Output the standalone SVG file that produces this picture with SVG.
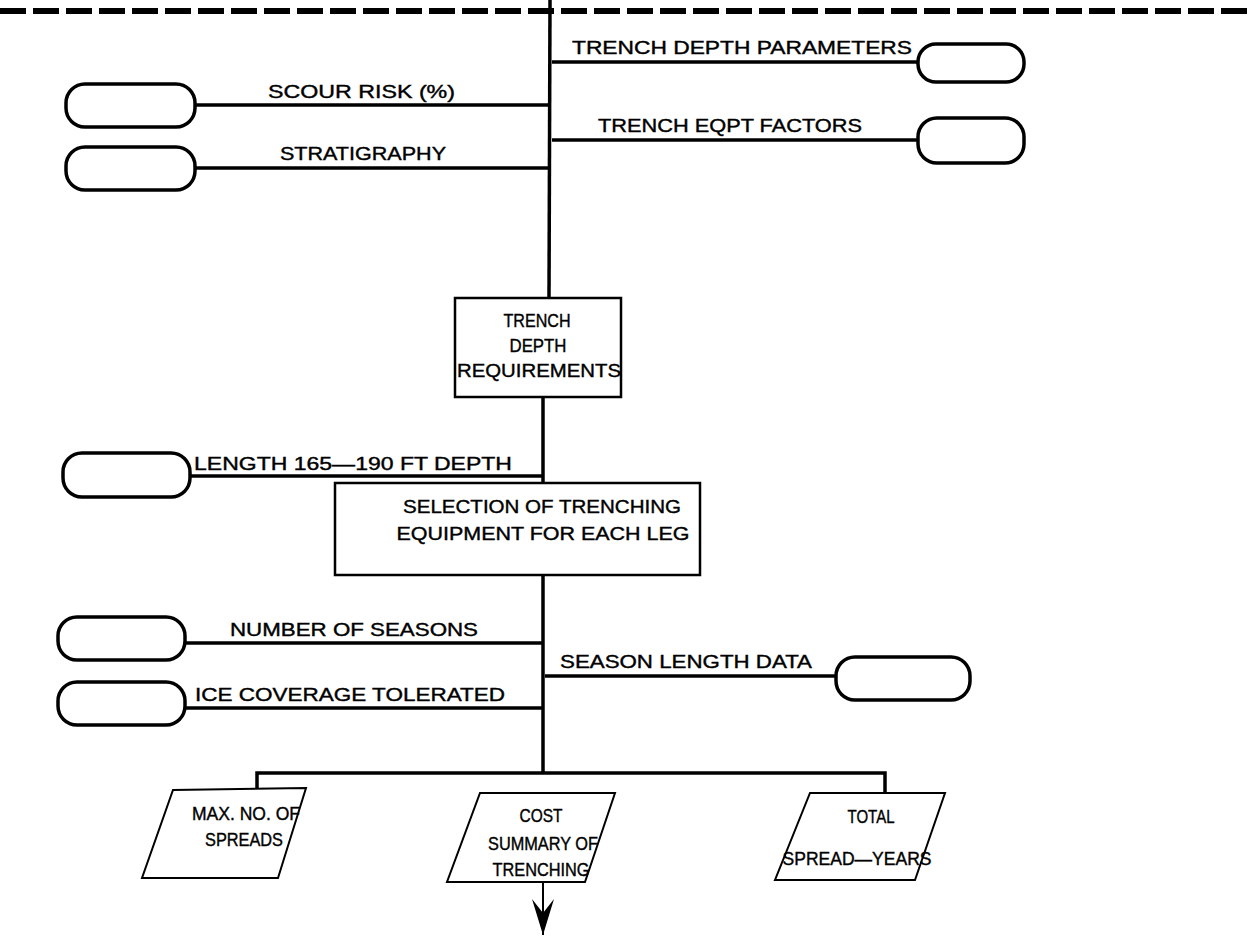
<svg xmlns="http://www.w3.org/2000/svg" width="1249" height="942" viewBox="0 0 1249 942">
<style>
text{font-family:"Liberation Sans",Arial,sans-serif;font-size:19px;fill:#000;stroke:#000;stroke-width:0.4;}
.c{text-anchor:middle;}
.conn{stroke:#000;stroke-width:3.5;fill:none;}
.oval{fill:#fff;stroke:#000;stroke-width:3.5;}
.box{fill:#fff;stroke:#000;stroke-width:2.5;}
.para{fill:#fff;stroke:#000;stroke-width:2;}
</style>
<defs>
<marker id="arr" markerWidth="40" markerHeight="24" refX="36" refY="12" orient="auto" markerUnits="userSpaceOnUse" viewBox="0 0 40 24">
<path d="M0,1 L36,12 L0,23 L14,12 Z" fill="#000"/>
</marker>
</defs>
<rect width="1249" height="942" fill="#fff"/>
<line x1="0" y1="11" x2="1249" y2="11" stroke="#000" stroke-width="6" stroke-dasharray="26 7"/>
<g id="connectors">
<line class="conn" x1="550" y1="0" x2="549" y2="298"/>
<line class="conn" x1="552" y1="62" x2="918" y2="62"/>
<line class="conn" x1="195" y1="105" x2="549" y2="105"/>
<line class="conn" x1="552" y1="140" x2="918" y2="140"/>
<line class="conn" x1="195" y1="168" x2="549" y2="168"/>
<line class="conn" x1="543" y1="397" x2="543" y2="483"/>
<line class="conn" x1="190" y1="476" x2="543" y2="476"/>
<line class="conn" x1="543" y1="575" x2="543" y2="773"/>
<line class="conn" x1="185" y1="643" x2="543" y2="643"/>
<line class="conn" x1="545" y1="676" x2="836" y2="676"/>
<line class="conn" x1="185" y1="708" x2="543" y2="708"/>
<polyline class="conn" points="257,790 257,773 885,773 885,793"/>
<line stroke="#000" stroke-width="2" x1="543" y1="882" x2="543" y2="935" marker-end="url(#arr)"/>
</g>
<g id="tdp-input"><rect class="oval" x="918" y="44" width="106" height="38" rx="18"/></g>
<text x="572" y="54" textLength="340" lengthAdjust="spacingAndGlyphs">TRENCH DEPTH PARAMETERS</text>
<g id="scour-input"><rect class="oval" x="66" y="84" width="129" height="43" rx="19"/></g>
<text x="268" y="98" textLength="187" lengthAdjust="spacingAndGlyphs">SCOUR RISK (%)</text>
<g id="tef-input"><rect class="oval" x="918" y="118" width="106" height="45" rx="19"/></g>
<text x="598" y="132" textLength="264" lengthAdjust="spacingAndGlyphs">TRENCH EQPT FACTORS</text>
<g id="strat-input"><rect class="oval" x="66" y="147" width="129" height="43" rx="19"/></g>
<text x="280" y="160" textLength="166" lengthAdjust="spacingAndGlyphs">STRATIGRAPHY</text>
<g id="tdr">
<rect class="box" x="455" y="298" width="166" height="99"/>
<text class="c" x="537" y="327" textLength="67" lengthAdjust="spacingAndGlyphs">TRENCH</text>
<text class="c" x="538" y="352" textLength="57" lengthAdjust="spacingAndGlyphs">DEPTH</text>
<text class="c" x="539" y="377" textLength="164" lengthAdjust="spacingAndGlyphs">REQUIREMENTS</text>
</g>
<g id="length-input"><rect class="oval" x="63" y="453" width="127" height="44" rx="19"/></g>
<text x="194" y="470" textLength="318" lengthAdjust="spacingAndGlyphs">LENGTH 165—190 FT DEPTH</text>
<g id="selection">
<rect class="box" x="335" y="483" width="365" height="92"/>
<text class="c" x="542" y="513" textLength="278" lengthAdjust="spacingAndGlyphs">SELECTION OF TRENCHING</text>
<text class="c" x="543" y="540" textLength="293" lengthAdjust="spacingAndGlyphs">EQUIPMENT FOR EACH LEG</text>
</g>
<g id="seasons-input"><rect class="oval" x="58" y="617" width="127" height="43" rx="19"/></g>
<text x="230" y="636" textLength="248" lengthAdjust="spacingAndGlyphs">NUMBER OF SEASONS</text>
<g id="sld-input"><rect class="oval" x="836" y="657" width="134" height="43" rx="19"/></g>
<text x="560" y="668" textLength="252" lengthAdjust="spacingAndGlyphs">SEASON LENGTH DATA</text>
<g id="ice-input"><rect class="oval" x="58" y="682" width="127" height="43" rx="19"/></g>
<text x="195" y="701" textLength="310" lengthAdjust="spacingAndGlyphs">ICE COVERAGE TOLERATED</text>
<g id="max-spreads">
<polygon class="para" points="173,790 306,788 278,878 142,878"/>
<text class="c" x="246" y="820" textLength="108" lengthAdjust="spacingAndGlyphs">MAX. NO. OF</text>
<text class="c" x="244" y="846" textLength="78" lengthAdjust="spacingAndGlyphs">SPREADS</text>
</g>
<g id="cost-summary">
<polygon class="para" points="480,793 615,793 585,882 447,882"/>
<text class="c" x="541" y="822" textLength="43" lengthAdjust="spacingAndGlyphs">COST</text>
<text class="c" x="543" y="850" textLength="110" lengthAdjust="spacingAndGlyphs">SUMMARY OF</text>
<text class="c" x="541" y="876" textLength="97" lengthAdjust="spacingAndGlyphs">TRENCHING</text>
</g>
<g id="spread-years">
<polygon class="para" points="810,793 945,793 915,880 775,880"/>
<text class="c" x="871" y="823" textLength="47" lengthAdjust="spacingAndGlyphs">TOTAL</text>
<text class="c" x="857" y="865" textLength="149" lengthAdjust="spacingAndGlyphs">SPREAD—YEARS</text>
</g>
</svg>
